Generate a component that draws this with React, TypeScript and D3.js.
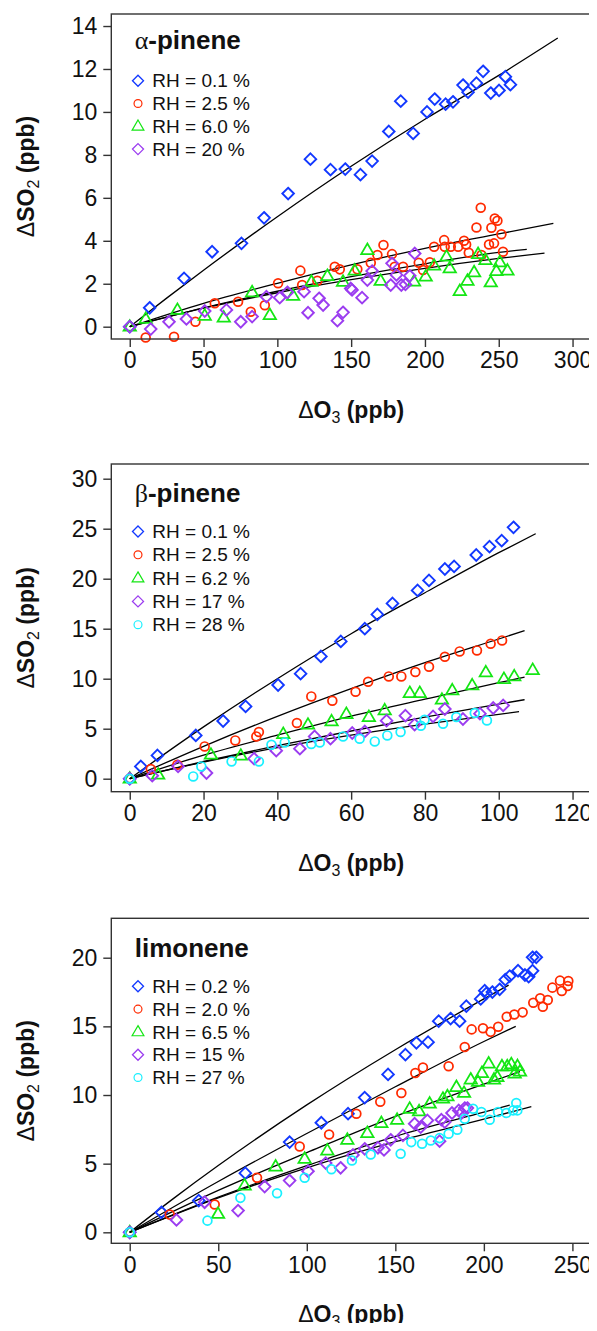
import { useEffect, useRef } from "react";
import * as d3 from "d3";

const SANS = "'Liberation Sans', Arial, Helvetica, sans-serif";
const SERIF = "'Liberation Serif', 'Times New Roman', serif";

const BLUE = "#1238ff";
const RED = "#ff2a00";
const GREEN = "#14e614";
const PURPLE = "#9b3cf0";
const CYAN = "#19f0ff";

// ---------- alpha-pinene ----------
const alphaXTicks = [0, 50, 100, 150, 200, 250, 300];
const alphaYTicks = [0, 2, 4, 6, 8, 10, 12, 14];
const alphaLabels = ["RH = 0.1 %", "RH = 2.5 %", "RH = 6.0 %", "RH = 20 %"];
const alphaRH01 = [[0,0],[13.5,0.88],[36.8,2.25],[55.8,3.49],[75.7,3.88],[91,5.07],[107.3,6.2],[122.4,7.8],[136,7.31],[146,7.34],[156.3,7.08],[164.2,7.71],[175.5,9.09],[183.6,10.5],[192,9.0],[201.4,10.0],[206.6,10.6],[214,10.36],[219,10.47],[225.8,11.25],[229.2,10.92],[234.9,11.34],[239.4,11.89],[244.6,10.88],[250.2,11.0],[254.5,11.64],[257.9,11.27]];
const alphaRH25 = [[10.8,-0.5],[30,-0.47],[44.5,0.23],[57.6,1.09],[73.4,1.16],[82,0.7],[91.5,1.0],[100.5,2.02],[115.6,2.61],[116.8,1.94],[127.1,2.14],[138.9,2.79],[142.3,2.67],[154.2,2.67],[163.3,2.98],[167.8,3.34],[171.9,3.8],[177.7,3.38],[179.5,2.79],[185.2,2.79],[195.8,2.98],[198.7,2.64],[203.3,3.0],[206.2,3.72],[213,4.03],[213.4,3.72],[217.5,3.72],[222.5,3.72],[226.5,4.0],[227.9,3.83],[229.7,3.44],[234.9,4.62],[237.8,5.54],[238.3,3.34],[243.4,3.83],[245,4.61],[246.8,3.88],[247.3,5.04],[249.1,4.93],[251.8,4.3],[252.9,3.49]];
const alphaRH60 = [[0,0],[10.8,0.36],[32.3,0.78],[50.8,0.51],[63.7,0.42],[82.9,1.6],[94.9,0.54],[110.7,1.44],[123.1,2.09],[133.9,2.36],[144.5,2.09],[152.4,2.61],[161,3.57],[170,2.13],[192.6,2.1],[200.5,2.33],[206.2,2.84],[214.6,3.26],[216.8,2.72],[223.6,1.66],[228.8,2.14],[233.3,2.53],[236,3.38],[241,3.1],[244.6,2.06],[248.4,2.59],[250.7,3.0],[255.9,2.61]];
const alphaRH20 = [[0,0],[14.2,-0.11],[26.6,0.23],[38.4,0.36],[50.8,0.73],[65.5,0.78],[75.2,0.23],[82.9,0.47],[92.6,1.4],[101.6,1.35],[106.8,1.6],[118.1,1.63],[120.8,0.65],[128.3,1.32],[131,1.01],[140.7,0.28],[144.5,0.67],[149.7,1.78],[150.6,1.71],[157.4,1.35],[161,2.17],[164.2,2.59],[176.8,1.94],[177.7,2.95],[180.7,2.41],[184,1.94],[186.8,1.97],[189.7,2.37],[193.1,3.41]];
const alphaFit01 = [[0,0],[25,1.33],[50,2.63],[100,5.12],[150,7.47],[200,9.66],[250,11.7],[290,13.44]];
const alphaFit25 = [[0,0],[50,1.09],[100,2.02],[150,2.88],[200,3.65],[250,4.32],[287,4.81]];
const alphaFit60 = [[0,0],[50,0.86],[100,1.58],[150,2.19],[200,2.72],[250,3.18],[281,3.43]];
const alphaFit20 = [[0,0],[50,0.88],[100,1.65],[150,2.33],[200,2.93],[250,3.46],[269,3.6]];

// ---------- beta-pinene ----------
const betaXTicks = [0, 20, 40, 60, 80, 100, 120];
const betaYTicks = [0, 5, 10, 15, 20, 25, 30];
const betaLabels = ["RH = 0.1 %", "RH = 2.5 %", "RH = 6.2 %", "RH = 17 %", "RH = 28 %"];
const betaRH01 = [[0,0],[3,1.23],[7.5,2.33],[17.9,4.33],[25.3,5.77],[31.4,7.23],[40.2,9.37],[46.3,10.5],[51.8,12.23],[57.2,13.73],[63.7,15.0],[67.1,16.43],[71.2,17.53],[78,18.83],[81.1,19.83],[85.4,20.97],[87.9,21.23],[93.9,22.37],[97.5,23.2],[100.8,23.8],[104,25.14]];
const betaRH25 = [[0,0],[5.7,0.97],[12.9,1.4],[20.3,3.23],[28.6,3.83],[34.3,4.23],[35,4.67],[45.3,5.57],[49.2,8.23],[54.9,7.8],[61.2,8.7],[64.6,9.7],[70.2,10.23],[73.6,10.23],[77.4,10.67],[81.1,11.2],[85.4,12.2],[89.4,12.73],[94.1,12.83],[97.8,13.5],[100.9,13.83]];
const betaRH62 = [[0,0],[7.7,0.4],[22,2.4],[30.1,2.3],[41.6,4.47],[48.3,5.4],[54.7,5.73],[58.7,6.47],[64.8,6.17],[69.1,6.83],[75.9,8.57],[78.6,8.57],[84.6,7.9],[87.4,8.83],[92.8,9.33],[96.5,10.63],[101.4,9.97],[104.2,10.23],[109.2,10.87]];
const betaRH17 = [[0,0],[6.1,0.3],[13.1,1.23],[20.8,0.57],[33.7,2.0],[39.7,2.8],[46.1,3.0],[50.1,4.23],[54.4,4.0],[60.3,4.57],[63.7,4.73],[69.6,5.8],[74.7,6.3],[77.2,5.4],[82.2,6.23],[85.4,6.97],[90.3,5.97],[94.9,6.5],[98.5,7.07],[101.2,7.33]];
const betaRH28 = [[0,0],[17.2,0.23],[19.4,1.23],[27.6,1.73],[35,1.73],[38.4,3.4],[42,3.63],[49.2,3.47],[51.5,3.63],[57.8,4.23],[62.3,4.0],[66.4,3.73],[69.8,4.33],[73.4,4.67],[78.9,5.3],[79.9,5.9],[84.9,5.5],[88.5,6.17],[93.5,6.57],[96.8,5.83]];
const betaFit01 = [[0,0],[20,5.18],[40,10.0],[60,14.5],[80,18.6],[100,22.6],[110,24.5]];
const betaFit25 = [[0,0],[20,3.24],[40,6.23],[60,9.0],[80,11.6],[100,13.97],[107,14.8]];
const betaFit62 = [[0,0],[20,2.35],[40,4.35],[60,6.25],[80,7.95],[100,9.6],[107,10.15]];
const betaFit17 = [[0,0],[20,1.72],[40,3.3],[60,4.77],[80,6.16],[100,7.46],[107,7.9]];
const betaFit28 = [[0,0],[20,1.66],[40,3.1],[60,4.35],[80,5.45],[100,6.43],[105.5,6.7]];

// ---------- limonene ----------
const limoXTicks = [0, 50, 100, 150, 200, 250];
const limoYTicks = [0, 5, 10, 15, 20];
const limoLabels = ["RH = 0.2 %", "RH = 2.0 %", "RH = 6.5 %", "RH = 15 %", "RH = 27 %"];
const limoRH02 = [[0,0],[17.9,1.46],[39,2.31],[65.3,4.31],[90.3,6.57],[108.2,7.98],[123.3,8.64],[132.7,9.81],[145.9,11.5],[155.7,12.94],[161.9,13.8],[168.5,13.85],[174.5,15.38],[181.2,15.57],[186.3,15.38],[190.1,16.47],[198.2,17.0],[200.5,17.6],[201.4,17.4],[204.8,17.5],[208.9,17.7],[212.1,18.4],[214.6,18.66],[219.3,19.05],[223.2,18.74],[225.3,18.62],[227.5,19.05],[227.5,20.03],[229.6,20.03]];
const limoRH20 = [[0,0],[22.6,1.29],[48,2.02],[71.9,3.97],[96,6.25],[112.6,7.13],[128,8.64],[141.5,9.51],[153.4,10.15],[161.3,11.6],[165.6,12.0],[180.1,12.1],[189.2,13.5],[193.1,14.78],[199.5,14.86],[203.8,14.6],[208.1,14.97],[212.9,15.7],[217.2,15.87],[221.9,16.02],[227.9,16.72],[231.8,17.04],[233.3,16.43],[236.1,16.92],[238.7,17.82],[243,18.33],[244,17.57],[247.3,17.94],[247.7,18.3]];
const limoRH65 = [[0,0],[49.9,1.34],[64.9,3.41],[82.4,4.79],[98.8,5.35],[111.6,5.96],[122.9,6.74],[134.2,7.23],[142.1,7.96],[151,8.2],[158.1,9.0],[163.4,8.81],[169.4,9.37],[176.9,9.73],[179.4,9.9],[184.5,10.58],[188.8,10.15],[192.6,11.12],[196.7,10.95],[198.9,11.6],[202.7,12.29],[205.7,11.12],[207.6,11.31],[210.2,12.09],[213.2,12.09],[215.5,12.24],[217.4,11.56],[219,12.1],[220.4,11.7]];
const limoRH15 = [[0,0],[26.4,0.9],[42.3,2.19],[61.2,1.58],[76.2,3.33],[90.3,3.77],[100.7,4.45],[110.7,5.04],[119.1,4.7],[126.1,5.64],[132.7,6.08],[140.2,6.16],[143.6,6.0],[147.4,6.74],[154.3,7.06],[160.9,7.91],[164.3,7.66],[168.1,8.15],[175,6.64],[176,8.2],[177.9,8.03],[182,8.69],[185.8,8.88],[187.3,8.69],[189.2,9.05],[190.7,9.05]];
const limoRH27 = [[0,0],[43.9,0.85],[62.5,2.51],[83.2,2.85],[98.8,3.97],[113.9,4.6],[125.5,5.23],[136.1,5.67],[153,5.72],[159,6.57],[165.1,6.45],[170,6.69],[175,6.86],[180.1,7.18],[185,7.47],[189.2,8.27],[193.9,9.0],[198.6,8.76],[203.3,8.2],[208,8.76],[212.7,8.69],[216.5,8.88],[218.3,9.42],[218.9,8.88]];
const limoFit02 = [[0,0],[25,2.49],[50,4.86],[100,9.28],[150,13.3],[200,17.0],[214,18.0]];
const limoFit20 = [[0,0],[50,3.7],[100,7.2],[150,10.6],[200,13.9],[218,15.0]];
const limoFit65 = [[0,0],[50,3.05],[100,5.8],[150,8.45],[200,10.8],[220.4,11.7]];
const limoFit15 = [[0,0],[50,2.56],[100,4.85],[150,6.99],[200,8.76],[214.6,9.27]];
const limoFit27 = [[0,0],[50,2.51],[100,4.7],[150,6.6],[200,8.24],[226.8,9.15]];

type Shape = "diamond" | "circle" | "triangle";
interface Series { label: string; color: string; shape: Shape; pts: number[][]; fit: number[][] }
interface Panel {
  greek: string; name: string; box: [number, number, number, number];
  xDom: [number, number]; yDom: [number, number];
  xTicks: number[]; yTicks: number[];
  titleY: number; legendY: number; legendStep: number;
  series: Series[];
}

const mk = (labels: string[], colors: string[], shapes: Shape[], pts: number[][][], fits: number[][][]): Series[] =>
  labels.map((l, i) => ({ label: l, color: colors[i], shape: shapes[i], pts: pts[i], fit: fits[i] }));

const panels: Panel[] = [
  {
    greek: "α", name: "-pinene", box: [111.3, 591, 14, 339],
    xDom: [-12.5, 312.5], yDom: [-0.573, 14.56],
    xTicks: alphaXTicks, yTicks: alphaYTicks, titleY: 49, legendY: 80.7, legendStep: 22.8,
    series: mk(alphaLabels, [BLUE, RED, GREEN, PURPLE], ["diamond", "circle", "triangle", "diamond"],
      [alphaRH01, alphaRH25, alphaRH60, alphaRH20], [alphaFit01, alphaFit25, alphaFit60, alphaFit20]),
  },
  {
    greek: "β", name: "-pinene", box: [111.3, 591, 464, 791.7],
    xDom: [-5, 125], yDom: [-1.3, 31.47],
    xTicks: betaXTicks, yTicks: betaYTicks, titleY: 501.5, legendY: 531.5, legendStep: 23.3,
    series: mk(betaLabels, [BLUE, RED, GREEN, PURPLE, CYAN], ["diamond", "circle", "triangle", "diamond", "circle"],
      [betaRH01, betaRH25, betaRH62, betaRH17, betaRH28], [betaFit01, betaFit25, betaFit62, betaFit17, betaFit28]),
  },
  {
    greek: "", name: "limonene", box: [111.3, 591, 918.3, 1243.3],
    xDom: [-10.4, 260.5], yDom: [-0.8, 22.87],
    xTicks: limoXTicks, yTicks: limoYTicks, titleY: 957.3, legendY: 986.3, legendStep: 22.8,
    series: mk(limoLabels, [BLUE, RED, GREEN, PURPLE, CYAN], ["diamond", "circle", "triangle", "diamond", "circle"],
      [limoRH02, limoRH20, limoRH65, limoRH15, limoRH27], [limoFit02, limoFit20, limoFit65, limoFit15, limoFit27]),
  },
];

function drawSymbol(g: d3.Selection<SVGGElement, unknown, null, undefined>, shape: Shape, x: number, y: number, color: string, s = 1, sw = 1.9) {
  if (shape === "circle") {
    g.append("circle").attr("cx", x).attr("cy", y).attr("r", 4.4 * s)
      .attr("fill", "none").attr("stroke", color).attr("stroke-width", sw * 0.92);
  } else if (shape === "diamond") {
    const d = 5.8 * s;
    g.append("path").attr("d", `M${x},${y - d}L${x + d},${y}L${x},${y + d}L${x - d},${y}Z`)
      .attr("fill", "none").attr("stroke", color).attr("stroke-width", sw);
  } else {
    const w = 6.2 * s, h = 10.6 * s;
    g.append("path").attr("d", `M${x},${y - h * 0.62}L${x + w},${y + h * 0.38}L${x - w},${y + h * 0.38}Z`)
      .attr("fill", "none").attr("stroke", color).attr("stroke-width", sw * 0.92);
  }
}

export default function App() {
  const ref = useRef<SVGSVGElement>(null);

  useEffect(() => {
    const svg = d3.select(ref.current);
    svg.selectAll("*").remove();

    panels.forEach((p) => {
      const [bx0, bx1, by0, by1] = p.box;
      const x = d3.scaleLinear().domain(p.xDom).range([bx0, bx1]);
      const y = d3.scaleLinear().domain(p.yDom).range([by1, by0]);
      const g = svg.append("g");

      // fitted curves
      const line = d3.line<number[]>().x((d) => x(d[0])).y((d) => y(d[1])).curve(d3.curveMonotoneX);
      p.series.forEach((s) => {
        g.append("path").attr("d", line(s.fit) as string).attr("fill", "none")
          .attr("stroke", "#000").attr("stroke-width", 1.3);
      });

      // points
      p.series.forEach((s) => {
        s.pts.forEach((d) => drawSymbol(g, s.shape, x(d[0]), y(d[1]), s.color));
      });

      // frame
      g.append("rect").attr("x", bx0).attr("y", by0).attr("width", bx1 - bx0).attr("height", by1 - by0)
        .attr("fill", "none").attr("stroke", "#333").attr("stroke-width", 1.4);

      // axes
      const xa = g.append("g").attr("transform", `translate(0,${by1})`)
        .call(d3.axisBottom(x).tickValues(p.xTicks).tickSize(8).tickPadding(5).tickFormat(d3.format("d")));
      xa.select(".domain").remove();
      xa.selectAll("line").attr("stroke", "#333").attr("stroke-width", 1.4);
      xa.selectAll("text").attr("font-family", SANS).attr("font-size", 23).attr("fill", "#111");

      const ya = g.append("g").attr("transform", `translate(${bx0},0)`)
        .call(d3.axisLeft(y).tickValues(p.yTicks).tickSize(8).tickPadding(6).tickFormat(d3.format("d")));
      ya.select(".domain").remove();
      ya.selectAll("line").attr("stroke", "#333").attr("stroke-width", 1.4);
      ya.selectAll("text").attr("font-family", SANS).attr("font-size", 23).attr("fill", "#111");

      // axis titles
      const xt = g.append("text").attr("x", (bx0 + bx1) / 2).attr("y", by1 + 79)
        .attr("text-anchor", "middle").attr("font-family", SANS).attr("font-size", 23).attr("fill", "#111");
      xt.append("tspan").text("Δ");
      xt.append("tspan").attr("font-weight", "bold").text("O");
      xt.append("tspan").attr("font-size", 16).attr("dy", 5).text("3");
      xt.append("tspan").attr("font-weight", "bold").attr("dy", -5).text(" (ppb)");

      const yt = g.append("text")
        .attr("transform", `translate(34,${(by0 + by1) / 2}) rotate(-90)`)
        .attr("text-anchor", "middle").attr("font-family", SANS).attr("font-size", 23).attr("fill", "#111");
      yt.append("tspan").text("Δ");
      yt.append("tspan").attr("font-weight", "bold").text("SO");
      yt.append("tspan").attr("font-size", 16).attr("dy", 5).text("2");
      yt.append("tspan").attr("font-weight", "bold").attr("dy", -5).text(" (ppb)");

      // panel title
      const tt = g.append("text").attr("x", 134.7).attr("y", p.titleY)
        .attr("font-family", SANS).attr("font-size", 26).attr("font-weight", "bold").attr("fill", "#111");
      if (p.greek) tt.append("tspan").attr("font-family", SERIF).attr("font-weight", "normal").text(p.greek);
      tt.append("tspan").text(p.name);

      // legend
      p.series.forEach((s, i) => {
        const ly = p.legendY + i * p.legendStep;
        drawSymbol(g, s.shape, 138, ly, s.color, s.shape === "circle" ? 0.9 : 0.95, 1.3);
        g.append("text").attr("x", 152.3).attr("y", ly).attr("dy", "0.35em")
          .attr("font-family", SANS).attr("font-size", 19).attr("fill", "#111").text(s.label);
      });
    });
  }, []);

  return (
    <div style={{ width: 597, height: 1331, margin: "-8px" }}>
      <svg ref={ref} width={597} height={1331} style={{ display: "block", background: "#fff" }} />
    </div>
  );
}
